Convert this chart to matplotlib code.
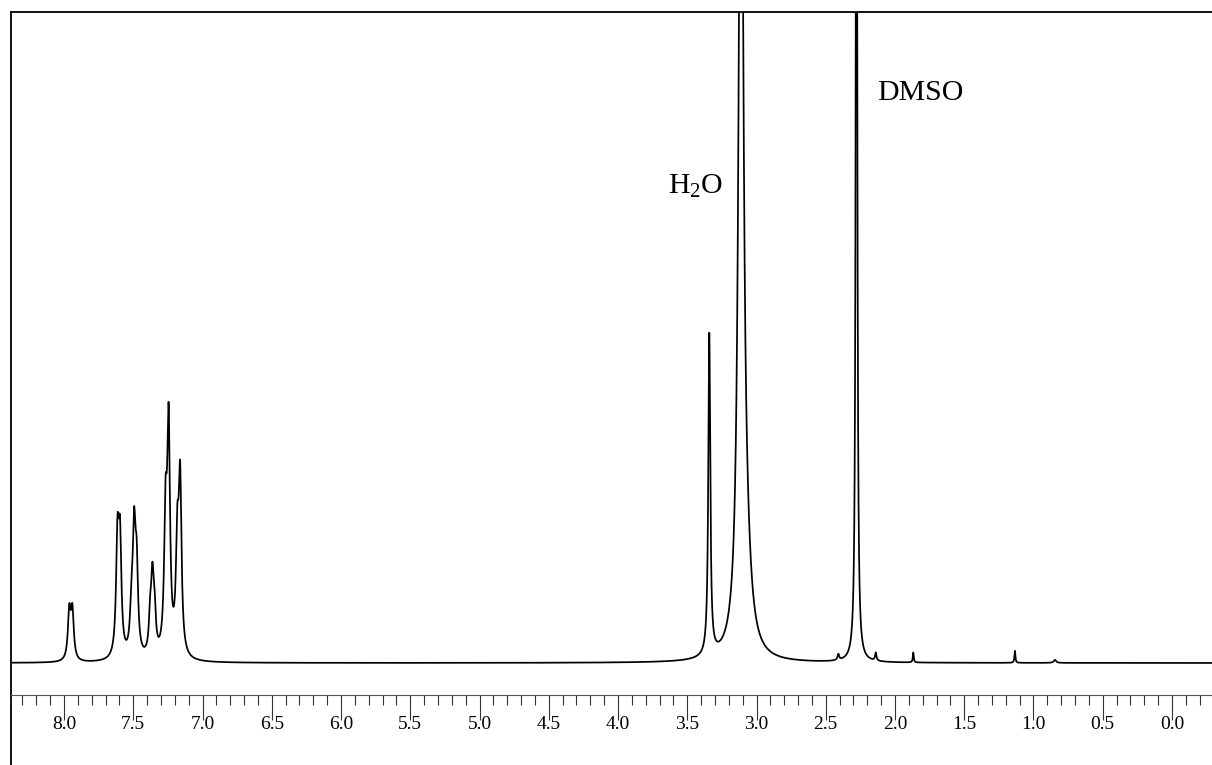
import numpy as np
import matplotlib
matplotlib.use("Agg")
import matplotlib.pyplot as plt

plt.rcParams["font.family"] = ["Liberation Serif", "DejaVu Serif"]
plt.rcParams["mathtext.fontset"] = "custom"
plt.rcParams["mathtext.rm"] = "Liberation Serif"
plt.rcParams["mathtext.it"] = "Liberation Serif:italic"

# 1H NMR peak list: chemical shift (ppm), intensity (a.u.), half width (ppm)
shift_ppm = [7.962, 7.940, 7.614, 7.596, 7.513, 7.494, 7.476,
             7.378, 7.362, 7.347, 7.267, 7.245, 7.182, 7.162,
             3.341, 3.112, 3.076, 2.409, 2.278, 2.139, 1.868, 1.134, 0.845]
intensity = [48, 48, 112, 108, 40, 115, 82,
             35, 68, 40, 128, 222, 103, 168,
             322, 1000, 60, 6, 1200, 8, 10, 12, 3]
half_width = [0.012, 0.012, 0.012, 0.012, 0.012, 0.012, 0.012,
              0.011, 0.011, 0.011, 0.012, 0.012, 0.012, 0.012,
              0.0085, 0.019, 0.043, 0.007, 0.0058, 0.006, 0.004, 0.004, 0.010]

# solvent annotations: text, shift (ppm), intensity at text baseline
label_text = [r"H$_2$O", "DMSO"]
label_ppm = [3.639, 2.130]
label_int = [469, 563]

major_ticks = np.arange(0.0, 8.01, 0.5)
minor_ticks = np.arange(-0.2, 8.31, 0.1)
x_range = (8.383, -0.289)
y_range = (-102, 651)

# spectrum as a sum of Lorentzian lines
ppm = np.arange(8.45, -0.35, -0.0004)
spectrum = np.zeros_like(ppm)
for d0, h, g in zip(shift_ppm, intensity, half_width):
    spectrum += h * g**2 / ((ppm - d0) ** 2 + g**2)

W, H = 1212, 765
fig = plt.figure(figsize=(W / 100, H / 100), dpi=100)
ax = fig.add_axes([11 / W, 0.0, 1 - 11 / W, (H - 12) / H])

ax.plot(ppm, spectrum, color="black", lw=1.25, solid_joinstyle="round")
ax.set_xlim(*x_range)
ax.set_ylim(*y_range)

for t, xp, yp in zip(label_text, label_ppm, label_int):
    ax.text(xp, yp, t, fontsize=21.5, ha="left", va="baseline", color="black")

# frame: left and top lines in black, ppm scale as a separate axis line
for s in ("left", "top"):
    ax.spines[s].set_linewidth(1.3)
    ax.spines[s].set_color("black")
ax.spines["right"].set_visible(False)
ax.spines["bottom"].set_position(("axes", 70 / 753))
ax.spines["bottom"].set_linewidth(0.8)
ax.spines["bottom"].set_color("#555555")

ax.set_yticks([])
ax.set_xticks(major_ticks)
ax.set_xticklabels([f"{v:.1f}" for v in major_ticks])
ax.set_xticks(minor_ticks, minor=True)
ax.tick_params(axis="x", which="major", direction="out", length=18, width=0.8,
               color="#333333", labelsize=14, pad=-3)
ax.tick_params(axis="x", which="minor", direction="out", length=7.2, width=0.8,
               color="#333333")

fig.savefig("out.png", dpi=100)
